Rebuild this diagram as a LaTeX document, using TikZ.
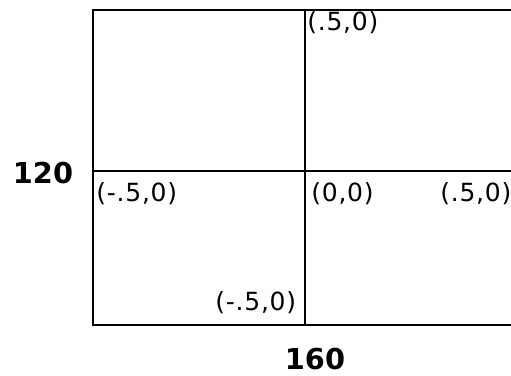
\documentclass[tikz,border=0pt]{standalone}
\usepackage{fontspec}
\setmainfont{DejaVu Sans}
\newfontfamily\lblfont[LetterSpace=3]{DejaVu Sans}
\usetikzlibrary{positioning}

\begin{document}
\begin{tikzpicture}[x=0.5pt,y=-0.5pt,
    lbl/.style={font=\lblfont\fontsize{12.5}{14}\selectfont,inner sep=0pt,anchor=west},
    dimlbl/.style={font=\bfseries\fontsize{14.4}{16}\selectfont,inner sep=0pt}]
    \useasboundingbox (0,0) rectangle (511,376);
    \clip (0,0) rectangle (511,376);

    % grid
    \draw[line width=1.25pt] (93,10) rectangle (540,325);
    \draw[line width=1.25pt] (305,10) -- (305,325);
    \draw[line width=1.25pt] (93,171) -- (540,171);

    % coordinates
    \node[lbl] (qtop) at (307,23) {(.5,0)};
    \node[lbl] (qleft) at (96,194) {(-.5,0)};
    \node[lbl] (qorig) at (311,194) {(0,0)};
    \node[lbl] (qright) at (440,194) {(.5,0)};
    \node[lbl] (qbot) at (215,303) {(-.5,0)};

    % sizes
    \node[dimlbl] (hgt) at (43,173) {120};
    \node[dimlbl] (wid) at (315,359) {160};
  \end{tikzpicture}
\end{document}
